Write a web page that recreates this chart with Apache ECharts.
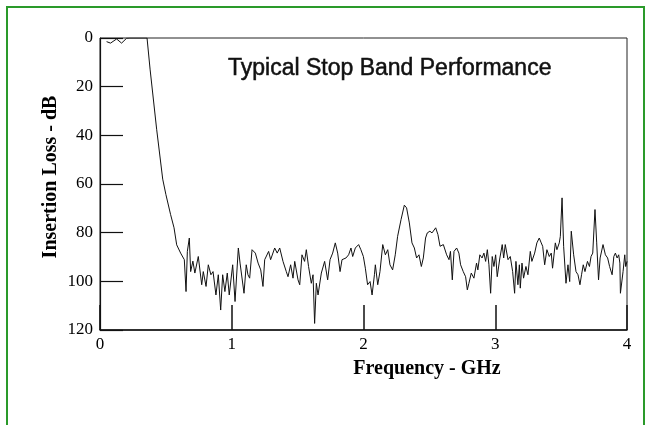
<!DOCTYPE html>
<html>
<head>
<meta charset="utf-8">
<script src="https://cdn.jsdelivr.net/npm/echarts@6/dist/echarts.min.js"></script>
<style>
  html, body { margin: 0; padding: 0; background: #fff; }
  #chart { width: 651px; height: 425px; }
</style>
</head>
<body>
<div id="chart"></div>
<script>
// frequency (GHz) and insertion loss (dB)
const freqGHz = [
    0.05, 0.08, 0.126, 0.164, 0.202, 0.227, 0.357,
    0.38, 0.43, 0.476, 0.50, 0.536, 0.562, 0.582, 0.612, 0.64, 0.653, 0.663, 0.678, 0.688,
    0.705, 0.72, 0.746, 0.772, 0.784, 0.805, 0.822, 0.842, 0.858, 0.88, 0.898, 0.916, 0.931,
    0.948, 0.966, 0.981, 1.007, 1.025, 1.05, 1.063,
    1.073, 1.093, 1.11, 1.123, 1.136, 1.154, 1.179, 1.2, 1.22, 1.237, 1.25, 1.28, 1.295,
    1.326, 1.345, 1.364, 1.389, 1.414, 1.427, 1.447, 1.465, 1.478, 1.503, 1.516, 1.533,
    1.553, 1.566, 1.583, 1.604, 1.617, 1.629, 1.642, 1.655, 1.68, 1.705,
    1.728, 1.746, 1.766, 1.786, 1.804, 1.822, 1.837, 1.867, 1.887, 1.905, 1.918, 1.938,
    1.963, 1.98, 1.999, 2.014, 2.031, 2.05, 2.065, 2.083, 2.09, 2.108, 2.125, 2.146,
    2.166, 2.184, 2.201, 2.221, 2.241, 2.259, 2.285, 2.31, 2.327, 2.348, 2.368, 2.386,
    2.403, 2.421, 2.439, 2.454, 2.471, 2.484, 2.504, 2.52, 2.548, 2.565, 2.581, 2.606,
    2.631, 2.649, 2.66, 2.674, 2.687, 2.707, 2.724, 2.737, 2.757, 2.775, 2.788, 2.8,
    2.818, 2.838, 2.858, 2.868, 2.883, 2.9, 2.914, 2.927, 2.94, 2.952, 2.965, 2.977,
    2.99, 3.003, 3.015, 3.035, 3.053,
    3.064, 3.076, 3.097, 3.114, 3.132, 3.147, 3.157, 3.172, 3.183, 3.19, 3.203, 3.215,
    3.233, 3.248, 3.266, 3.278, 3.299, 3.316, 3.334, 3.349, 3.36, 3.375, 3.392, 3.41,
    3.425, 3.435, 3.456, 3.468, 3.486, 3.494, 3.507, 3.519, 3.537, 3.552, 3.565, 3.577,
    3.595, 3.613, 3.628, 3.643,
    3.655, 3.668, 3.681, 3.7, 3.715, 3.727, 3.74, 3.757, 3.77, 3.784, 3.796, 3.818,
    3.836, 3.853, 3.868, 3.887, 3.9, 3.912, 3.925, 3.937, 3.946, 3.95, 3.97, 3.983,
    3.99, 4.0
];

const lossDb = [
    1.5, 2.1, 0.4, 2.1, 0.1, 0, 0,
    12.8, 37.5, 58, 64.3, 72.6, 78, 85, 88.4, 91.1, 104.2, 87.7, 82.2, 96,
    91.7, 96.6, 89.8, 101.4, 96, 102.1, 93.2, 97.3, 96, 105.6, 97.3, 111.8, 97.3,
    104.2, 96.6, 105.6, 93.2, 108.3, 86.3, 92.5,
    93.2, 104.9, 93.2, 97.3, 98.7, 87, 88.4, 92.5, 95.3, 102.1, 91.1, 87.7, 91.1,
    86.3, 88.4, 86.3, 91.8, 96, 98.1, 93.2, 98.7, 91.8, 99.4, 101.4, 89.1,
    91.8, 87, 93.9, 100.8, 97.3, 117.3, 100.8, 105.6, 96.6, 91.8,
    99.4, 91.1, 88.4, 84.2, 88.4, 96, 91.1, 90.4, 89.1, 86.3, 89.8, 86.3,
    84.9, 87, 89.8, 94.6, 101.4, 100.1, 105.6, 97.3, 93.2, 101.4, 96, 84.9,
    89.1, 87, 93.2, 95.3, 89.1, 81.5, 74.6, 68.7, 69.8, 76, 84.2, 86.3,
    90.4, 89.1, 93.9, 90.4, 82.2, 80.1, 79.4, 80.1, 78, 80.8, 85.6, 84.9,
    89.1, 91.1, 87.7, 99.4, 87.7, 86.3, 88.4, 93.2, 96, 98.1, 103.5, 100.8,
    96.6, 98.7, 92.5, 95.3, 89.1, 90.4, 88.4, 91.8, 87, 93.2, 104.9, 89.8,
    93.9, 89.1, 98.1, 90.4, 84.9,
    90.4, 84.9, 91.1, 89.8, 96, 104.9, 91.8, 101.4, 93.2, 102.8, 92.5, 98.7,
    93.9, 97.3, 87.7, 91.8, 88.4, 84.2, 82.2, 84.2, 85.6, 93.2, 87, 89.8,
    88.4, 94.6, 84.2, 87, 84.2, 81.5, 65.7, 85.6, 100.8, 93.2, 100.1, 79.4,
    89.1, 96, 97.3, 101.4,
    97.3, 93.2, 96, 91.8, 93.9, 89.8, 88.4, 70.5, 84.2, 99.4, 90.4, 84.9,
    89.1, 90.4, 93.9, 97.3, 89.8, 88.4, 90.4, 89.1, 92.5, 104.9, 96, 89.1,
    93.9, 91.8
];

const xTicks = [0, 1, 2, 3, 4];
const yTicks = [0, 20, 40, 60, 80, 100, 120];

const chart = echarts.init(document.getElementById('chart'));

let points = [];
for (let i = 0; i < freqGHz.length; i++) {
    points.push([freqGHz[i], lossDb[i]]);
}

const serif = "'Liberation Serif', 'Times New Roman', serif";

let option = {
    animation: false,
    backgroundColor: '#fff',
    title: {
        text: 'Typical Stop Band Performance',
        left: 223,
        top: 52,
        textStyle: {
            fontFamily: "'Liberation Sans', Arial, sans-serif",
            fontWeight: 'normal',
            fontSize: 23,
            color: '#111',
            textBorderColor: '#111',
            textBorderWidth: 0.5
        }
    },
    grid: {
        left: 100,
        right: 24,
        top: 38,
        bottom: 95,
        show: true,
        borderColor: '#222',
        borderWidth: 1
    },
    xAxis: {
        type: 'value',
        position: 'bottom',
        min: xTicks[0],
        max: xTicks[xTicks.length - 1],
        interval: 1,
        axisLine: { onZero: false, lineStyle: { color: '#111', width: 1.5 } },
        axisTick: { inside: true, length: 25, lineStyle: { color: '#111', width: 1.5 } },
        axisLabel: { fontFamily: serif, fontSize: 17, color: '#000', margin: 6 },
        splitLine: { show: false }
    },
    yAxis: {
        type: 'value',
        inverse: true,
        min: yTicks[0],
        max: yTicks[yTicks.length - 1],
        interval: 20,
        axisLine: { onZero: false, lineStyle: { color: '#111', width: 1.2 } },
        axisTick: { inside: true, length: 23, lineStyle: { color: '#111', width: 1.2 } },
        axisLabel: { fontFamily: serif, fontSize: 17, color: '#000', margin: 7 },
        splitLine: { show: false }
    },
    graphic: [
        {
            type: 'rect',
            shape: { x: 7, y: 7, width: 637, height: 440 },
            style: { fill: 'none', stroke: '#2a9a2a', lineWidth: 2 }
        },
        {
            type: 'text',
            x: 51,
            y: 177,
            rotation: Math.PI / 2,
            style: {
                text: 'Insertion Loss - dB',
                font: "bold 20px 'Liberation Serif', 'Times New Roman', serif",
                fill: '#000',
                align: 'center',
                verticalAlign: 'middle'
            }
        },
        {
            type: 'text',
            x: 427,
            y: 369,
            style: {
                text: 'Frequency - GHz',
                font: "bold 20px 'Liberation Serif', 'Times New Roman', serif",
                fill: '#000',
                align: 'center',
                verticalAlign: 'middle'
            }
        }
    ],
    series: [
        {
            type: 'line',
            data: points,
            showSymbol: false,
            lineStyle: { color: '#111', width: 1 }
        }
    ]
};

chart.setOption(option);
</script>
</body>
</html>
